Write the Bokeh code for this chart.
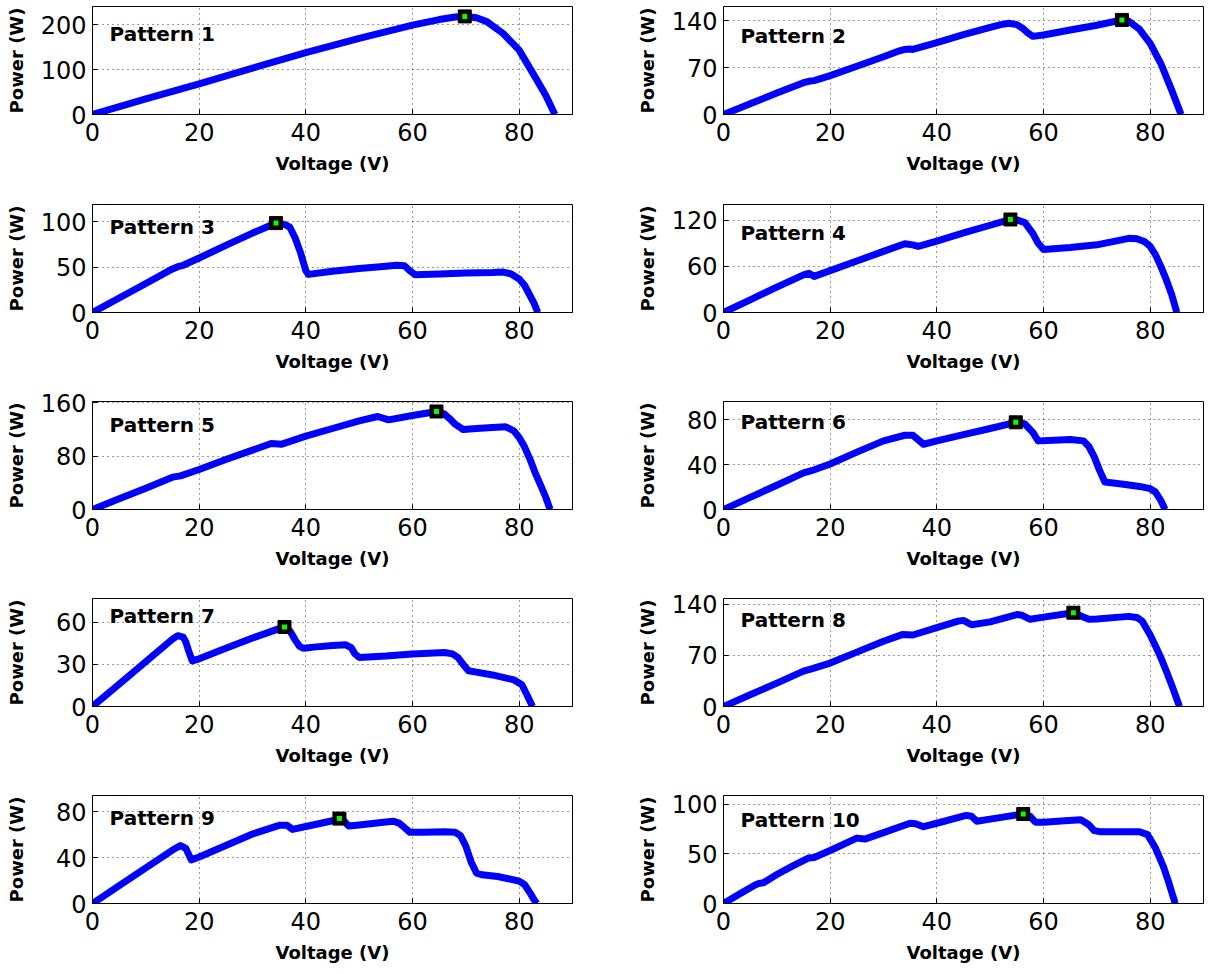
from bokeh.plotting import figure
from bokeh.layouts import column, row
from bokeh.models import Range1d, FixedTicker, Label
from bokeh.embed import file_html
from bokeh.resources import INLINE

# P-V curves of the PV array under ten shading patterns (voltage in V, power in W)
v1 = [0, 10, 20, 30, 40, 50, 60, 65, 68, 69.8, 72, 74, 77, 80, 83, 85, 86.7]
p1 = [0, 34.5, 68, 103, 137.5, 169, 198.5, 211, 216.5, 218, 215, 206, 180, 143, 83, 42, 0]

v2 = [0, 5, 10, 15, 16, 17, 20, 25, 30, 33, 34, 35, 35.5, 40, 45, 50, 52, 53.5, 55, 56, 57, 58, 60, 65, 70, 74.7, 76, 78, 80, 82, 84, 85.8]
p2 = [0, 16, 32, 47.5, 49.5, 50.5, 58, 72, 86, 95, 97, 97.5, 97, 107, 119, 130, 134, 136, 134, 129, 122, 116.5, 118.5, 126, 133, 141, 139, 127, 106, 76, 37, 0]

v3 = [0, 5, 10, 15, 16, 17, 20, 25, 30, 33, 34.4, 36, 37, 38, 39, 40, 40.5, 45, 50, 55, 57, 58.5, 59.5, 60.5, 65, 70, 75, 77, 78.5, 80, 81, 82, 82.8, 83.5]
p3 = [0, 16, 32, 48, 50.5, 52, 60, 74, 87.5, 95, 98.5, 97, 94, 82, 66, 46, 42, 45.5, 48.5, 51, 52, 51.5, 46, 41.5, 42.5, 43.5, 44, 44.5, 42.5, 37, 30, 19, 10, 0]

v4 = [0, 5, 10, 15, 16, 17, 20, 25, 30, 34, 35.5, 36.5, 40, 45, 50, 53.8, 55, 56.5, 58, 59, 60, 65, 70, 76, 77.5, 79, 80, 81, 82, 83, 84, 85]
p4 = [0, 16.5, 33, 49, 51, 47, 54.5, 67, 79.5, 89.5, 88, 86, 93, 103.5, 113.5, 121, 120.5, 117, 103, 90, 82, 84.5, 88, 96.5, 96, 92, 86, 75, 60, 43, 24, 0]

v5 = [0, 5, 10, 15, 16.5, 20, 25, 30, 33.5, 35.5, 40, 45, 50, 53.5, 55.5, 60, 64.5, 66, 67, 68, 69.5, 72, 75, 77.5, 79, 80, 81, 82, 83, 84, 85, 85.8]
p5 = [0, 16, 32, 48.5, 50.5, 60, 75, 89, 99, 98, 110, 121.5, 133, 139.5, 134.5, 141, 147, 143, 136, 128, 120, 121.5, 123, 124, 118, 108, 94, 76, 55, 37, 18, 0]

v6 = [0, 5, 10, 15, 16.5, 20, 25, 30, 34, 35.5, 36.5, 37.5, 40, 45, 50, 54.8, 56.5, 58, 59, 62, 65, 67.5, 68.5, 69.5, 70.5, 71.5, 75, 78, 80, 81, 82, 82.8]
p6 = [0, 10.8, 21.6, 32.5, 34.5, 40.5, 51, 61, 66, 66, 62, 58, 61, 66.5, 72, 77.5, 76, 68.5, 61, 61.5, 62.2, 61, 56, 47, 35, 24.5, 22.5, 20.5, 18.5, 15.5, 8, 0]

v7 = [0, 5, 10, 15, 16, 17, 17.5, 18, 18.7, 20, 25, 30, 35, 36, 37, 38, 38.8, 39.5, 42, 45, 47.5, 48.5, 49.2, 50, 55, 60, 66, 67.5, 68.5, 69.5, 70.5, 72, 75, 79, 80.5, 81.5, 82.5]
p7 = [0, 16, 32, 48, 50.5, 49.5, 46, 40, 32.5, 34, 41.5, 48.8, 55.5, 56.7, 54, 47.5, 43, 41.5, 42.5, 43.5, 44, 42, 37.5, 35, 36, 37.5, 38.5, 37.5, 35, 30, 25.5, 24.5, 22.5, 19, 15.5, 8, 0]

v8 = [0, 5, 10, 15, 16.5, 20, 25, 30, 33.5, 35.5, 40, 44, 45, 46.5, 50, 55, 56, 57.5, 60, 65.6, 67, 68.5, 70, 76, 77.5, 78.5, 80, 81, 82, 83, 84, 85.5]
p8 = [0, 16, 32, 48.5, 51.5, 59.5, 74.5, 89.5, 98.5, 98, 108, 117, 118, 112, 116, 126, 125, 119.5, 122.5, 128.5, 124, 119.5, 120, 123.5, 122, 117, 98, 83, 67, 49, 30, 0]

v9 = [0, 5, 10, 15, 16.5, 17.5, 18.5, 20, 25, 30, 35, 36.5, 37.5, 40, 45, 46.3, 47, 48, 50, 55, 56.5, 57.5, 58.5, 59.5, 62, 66, 68, 69, 70, 71, 72, 73, 76, 80, 81, 82, 82.7, 83.3]
p9 = [0, 15.5, 31, 46.5, 50.5, 48, 38, 40.5, 50.5, 60.5, 68, 68, 64.5, 67, 72, 73.9, 72.5, 67.5, 68.4, 71, 71.5, 70, 66, 62, 62, 62.5, 62, 59, 50, 36, 26.5, 25, 23.5, 19.5, 16.5, 9.5, 4, 0]

v10 = [0, 3, 6, 6.5, 7.5, 10, 13, 16, 17, 20, 25, 26.5, 30, 35, 36, 37.5, 40, 45.5, 46.5, 47.5, 50, 56.2, 57.5, 58.5, 60, 64, 67, 68.5, 69.5, 70.5, 75, 78, 79.5, 81, 82.5, 83.5, 84.7]
p10 = [0, 9.5, 19, 20, 21, 29.3, 38, 46, 46.5, 53.5, 66, 65, 71.5, 81, 80.5, 77.5, 81, 89, 88, 83, 85.2, 90.3, 88, 82, 82, 83.5, 84.5, 79.5, 73.5, 72.5, 72.5, 72.5, 69.5, 56, 37, 21, 0]

voltages = [v1, v2, v3, v4, v5, v6, v7, v8, v9, v10]
powers = [p1, p2, p3, p4, p5, p6, p7, p8, p9, p10]

# global maximum power point of each pattern
mpp_v = [69.8, 74.7, 34.4, 53.8, 64.5, 54.8, 36.0, 65.6, 46.3, 56.2]
mpp_p = [218, 141, 98.5, 121, 147, 77.5, 56.7, 128.5, 73.9, 90.3]

pattern_names = ["Pattern %d" % k for k in range(1, 11)]
y_tops = [240, 161, 119, 140.5, 162, 96, 77, 148, 94, 109]
y_ticks = [[0, 100, 200], [0, 70, 140], [0, 50, 100], [0, 60, 120], [0, 80, 160],
           [0, 40, 80], [0, 30, 60], [0, 70, 140], [0, 40, 80], [0, 50, 100]]
label_y = [180, 117, 93.7, 103.5, 127, 77.6, 64.3, 119, 74.8, 83.8]
x_ticks = [0, 20, 40, 60, 80]

FONT = "DejaVu Sans"
TICK_PX = 24
LABEL_PX = 18

# per row: total height and top border (frame height is 108 px)
row_heights = [190, 197, 197, 197, 193]
row_tops = [6, 14, 14, 14, 14]


def panel(k):
    r, c = divmod(k, 2)
    left = 92 if c == 0 else 118
    right = 33 if c == 0 else 7
    h = row_heights[r]
    top = row_tops[r]
    p = figure(width=605, height=h,
               x_range=Range1d(0, 90), y_range=Range1d(0, y_tops[k]),
               output_backend="svg", toolbar_location=None,
               min_border_left=left, min_border_right=right,
               min_border_top=top, min_border_bottom=h - top - 108)
    p.line(voltages[k], powers[k], line_color="#0000ff", line_width=7,
           line_join="round")
    p.scatter([mpp_v[k]], [mpp_p[k]], marker="square", size=13,
              fill_color="black", line_color="black")
    p.scatter([mpp_v[k]], [mpp_p[k]], marker="square", size=5,
              fill_color="#00ff00", line_color=None)

    p.add_layout(Label(x=3.2, y=label_y[k], text=pattern_names[k],
                       text_font=FONT, text_font_style="bold",
                       text_font_size="20px", text_baseline="middle",
                       text_color="black"))

    p.xaxis.ticker = FixedTicker(ticks=x_ticks)
    p.yaxis.ticker = FixedTicker(ticks=y_ticks[k])
    p.xaxis.axis_label = "Voltage (V)"
    p.yaxis.axis_label = "Power (W)"
    for ax in (p.xaxis, p.yaxis):
        ax.major_label_text_font = FONT
        ax.major_label_text_font_size = "%dpx" % TICK_PX
        ax.major_label_text_color = "black"
        ax.axis_label_text_font = FONT
        ax.axis_label_text_font_style = "bold"
        ax.axis_label_text_font_size = "%dpx" % LABEL_PX
        ax.axis_label_text_color = "black"
        ax.major_tick_in = 5
        ax.major_tick_out = 0
        ax.minor_tick_in = 0
        ax.minor_tick_out = 0
        ax.axis_line_color = "black"
        ax.major_tick_line_color = "black"
    p.xaxis.major_label_standoff = 8
    p.xaxis.axis_label_standoff = 9
    p.yaxis.major_label_standoff = 6
    ndig = max(len(str(t)) for t in y_ticks[k])
    p.yaxis.axis_label_standoff = max(2, int(round(56.5 - ndig * 0.636 * TICK_PX)))

    p.grid.grid_line_color = "black"
    p.grid.grid_line_dash = "1 4"
    p.grid.grid_line_alpha = 0.8
    p.outline_line_color = "black"
    p.outline_line_alpha = 1.0
    p.background_fill_color = "white"
    p.border_fill_color = "white"
    return p


panels = [panel(k) for k in range(10)]
layout = column(*[row(panels[2 * r], panels[2 * r + 1]) for r in range(5)])

open("out.html", "w").write(file_html(layout, INLINE))
